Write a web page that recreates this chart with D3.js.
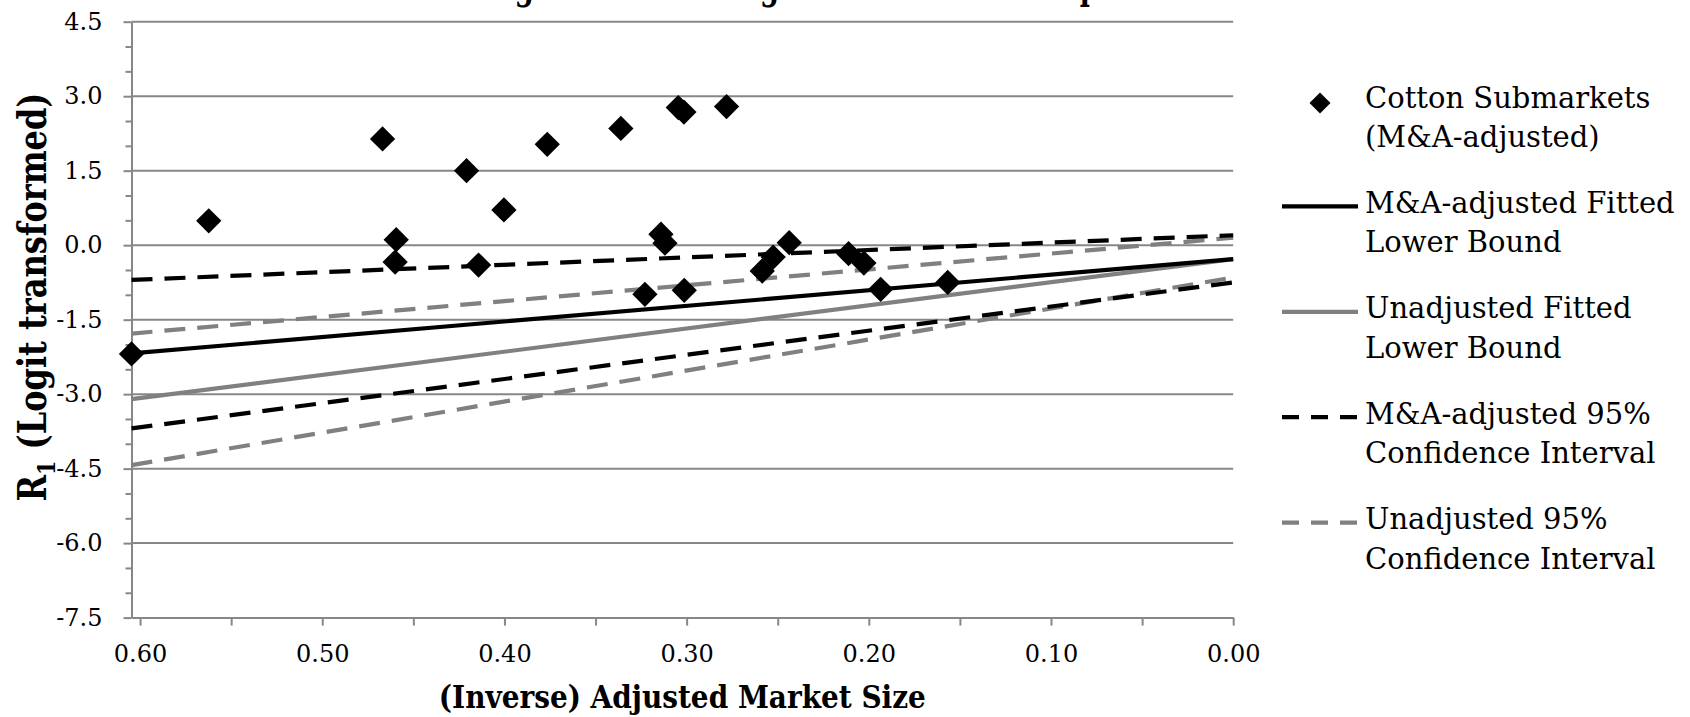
<!DOCTYPE html>
<html>
<head>
<meta charset="utf-8">
<script src="https://cdn.jsdelivr.net/npm/d3@7"></script>
<style>
  html, body { margin: 0; padding: 0; background: #ffffff; }
  svg { display: block; }
  text { font-family: "DejaVu Serif", "Liberation Serif", serif; fill: #000; }
</style>
</head>
<body>
<svg id="chart" width="1690" height="717"></svg>
<script>
// Cotton submarkets: inverse adjusted market size vs. logit-transformed R1
const submarketSize = [0.6047, 0.5623, 0.4669, 0.4594, 0.4600, 0.4208, 0.4142, 0.4003,
                       0.3765, 0.3361, 0.3046, 0.3015, 0.2781, 0.3141, 0.3119, 0.3229,
                       0.3013, 0.2437, 0.2525, 0.2585, 0.2111, 0.2027, 0.1935, 0.1567];
const submarketR1   = [-2.19, 0.49, 2.14, 0.11, -0.34, 1.50, -0.40, 0.71,
                       2.03, 2.35, 2.77, 2.68, 2.79, 0.22, 0.04, -0.99,
                       -0.91, 0.05, -0.24, -0.52, -0.17, -0.36, -0.89, -0.75];

// Fitted lower bounds and 95% intervals, evaluated at both ends of the x range
const lineSize        = [0.6047, 0.0];
const maFitted        = [-2.18, -0.28];
const unadjFitted     = [-3.10, -0.28];
const maUpperCI       = [-0.70, 0.20];
const maLowerCI       = [-3.69, -0.75];
const unadjUpperCI    = [-1.78, 0.15];
const unadjLowerCI    = [-4.43, -0.65];

// Axis ticks
const yMajorTicks = [-7.5, -6.0, -4.5, -3.0, -1.5, 0.0, 1.5, 3.0, 4.5];
const yMinorTicks = [-7.0, -6.5, -5.5, -5.0, -4.0, -3.5, -2.5, -2.0, -1.0, -0.5,
                     0.5, 1.0, 2.0, 2.5, 3.5, 4.0];
const xMajorTicks = [0.6, 0.5, 0.4, 0.3, 0.2, 0.1, 0.0];
const xMinorTicks = [0.55, 0.45, 0.35, 0.25, 0.15, 0.05];

const chartTitle = "Estimating Cotton Ginning Lower Bound: Comparison of M&A";
const xTitle = "(Inverse) Adjusted Market Size";
const legendEntries = [
  { lines: ["Cotton Submarkets", "(M&A-adjusted)"], type: "point" },
  { lines: ["M&A-adjusted Fitted", "Lower Bound"], type: "line", color: "#000000", dash: null },
  { lines: ["Unadjusted Fitted", "Lower Bound"], type: "line", color: "#808080", dash: null },
  { lines: ["M&A-adjusted 95%", "Confidence Interval"], type: "line", color: "#000000", dash: "17,12" },
  { lines: ["Unadjusted 95%", "Confidence Interval"], type: "line", color: "#808080", dash: "17,12" }
];

const svg = d3.select("#chart");
const plot = { left: 131.5, right: 1233.2, top: 21.7, bottom: 617.6 };
const gridColor = "#878787";

const x = d3.scaleLinear().domain([lineSize[0], 0]).range([plot.left, plot.right]);
const y = d3.scaleLinear().domain([-7.5, 4.5]).range([plot.bottom, plot.top]);

// Horizontal gridlines
svg.append("g").selectAll("line")
  .data(yMajorTicks.filter(d => d > -7.5))
  .join("line")
  .attr("x1", plot.left).attr("x2", plot.right)
  .attr("y1", d => y(d)).attr("y2", d => y(d))
  .attr("stroke", gridColor).attr("stroke-width", 2);

// Y axis: major ticks with labels, minor ticks without
const yAxis = svg.append("g").attr("transform", `translate(${plot.left},0)`)
  .call(d3.axisLeft(y).tickValues(yMajorTicks).tickSize(8).tickSizeOuter(0)
        .tickPadding(21).tickFormat(d => d.toFixed(1)));
svg.append("g").attr("transform", `translate(${plot.left},0)`)
  .call(d3.axisLeft(y).tickValues(yMinorTicks).tickSize(6).tickSizeOuter(0).tickFormat(""))
  .call(g => g.select(".domain").remove());

// X axis (reversed: 0.60 on the left, 0.00 on the right)
const xAxis = svg.append("g").attr("transform", `translate(0,${plot.bottom})`)
  .call(d3.axisBottom(x).tickValues(xMajorTicks).tickSize(8).tickSizeOuter(0)
        .tickFormat(d => d.toFixed(2)));
svg.append("g").attr("transform", `translate(0,${plot.bottom})`)
  .call(d3.axisBottom(x).tickValues(xMinorTicks).tickSize(8).tickSizeOuter(0).tickFormat(""))
  .call(g => g.select(".domain").remove());

svg.selectAll(".domain, .tick line").attr("stroke", gridColor).attr("stroke-width", 2);
yAxis.selectAll("text").attr("font-size", 24).attr("font-family", "DejaVu Serif");
xAxis.selectAll("text").attr("font-size", 24).attr("font-family", "DejaVu Serif")
  .attr("y", 44).attr("dy", 0);

// Fitted lines and confidence bands
const lineGen = d3.line().x(d => x(d[0])).y(d => y(d[1]));
const series = [
  { values: unadjLowerCI, color: "#808080", dash: "21,12" },
  { values: unadjUpperCI, color: "#808080", dash: "21,12" },
  { values: maLowerCI,    color: "#000000", dash: "21,12" },
  { values: maUpperCI,    color: "#000000", dash: "21,12" },
  { values: unadjFitted,  color: "#808080", dash: null },
  { values: maFitted,     color: "#000000", dash: null }
];
svg.append("g").selectAll("path")
  .data(series)
  .join("path")
  .attr("d", s => lineGen(lineSize.map((v, i) => [v, s.values[i]])))
  .attr("fill", "none")
  .attr("stroke", s => s.color)
  .attr("stroke-width", 4.2)
  .attr("stroke-dasharray", s => s.dash);

// Submarket points as diamonds
const diamond = d3.symbol().type(d3.symbolSquare).size(320);
svg.append("g").selectAll("path")
  .data(submarketSize.map((v, i) => [v, submarketR1[i]]))
  .join("path")
  .attr("d", diamond)
  .attr("transform", d => `translate(${x(d[0])},${y(d[1])}) rotate(45)`)
  .attr("fill", "#000");

// Title (runs off the top edge)
svg.append("text")
  .attr("x", 366).attr("y", -1.5)
  .attr("font-size", 40).attr("font-weight", "bold")
  .attr("textLength", 954).attr("lengthAdjust", "spacingAndGlyphs")
  .text(chartTitle);

// Axis titles
svg.append("text")
  .attr("x", (plot.left + plot.right) / 2).attr("y", 708)
  .attr("text-anchor", "middle")
  .attr("font-size", 31).attr("font-weight", "bold")
  .attr("textLength", 487).attr("lengthAdjust", "spacingAndGlyphs")
  .text(xTitle);

const yt = svg.append("text")
  .attr("transform", "translate(46,297) rotate(-90)")
  .attr("text-anchor", "middle")
  .attr("font-size", 39).attr("font-weight", "bold")
  .attr("textLength", 409).attr("lengthAdjust", "spacingAndGlyphs");
yt.append("tspan").text("R");
yt.append("tspan").attr("font-size", 25).attr("dy", 9).text("1");
yt.append("tspan").attr("dy", -9).text(" (Logit transformed)");

// Legend
const legend = svg.append("g");
legendEntries.forEach((e, i) => {
  const cy = 100 + i * 105.4;
  const g = legend.append("g");
  if (e.type === "point") {
    g.append("path")
      .attr("d", d3.symbol().type(d3.symbolSquare).size(220))
      .attr("transform", `translate(1320,${cy + 3}) rotate(45)`)
      .attr("fill", "#000");
  } else {
    g.append("line")
      .attr("x1", 1282).attr("x2", 1358).attr("y1", cy + 1).attr("y2", cy + 1)
      .attr("stroke", e.color).attr("stroke-width", 4.2)
      .attr("stroke-dasharray", e.dash);
  }
  e.lines.forEach((t, j) => {
    g.append("text")
      .attr("x", 1365).attr("y", cy + 7.5 + j * 39.5)
      .attr("font-size", 29)
      .text(t);
  });
});
</script>
</body>
</html>
